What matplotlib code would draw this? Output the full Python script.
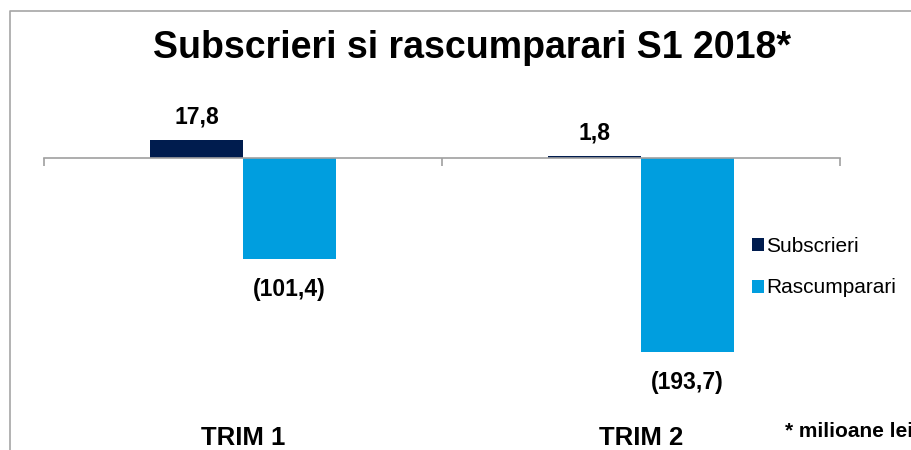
import matplotlib.pyplot as plt
import numpy as np
from matplotlib.lines import Line2D
from matplotlib.patches import Patch

plt.rcParams["font.family"] = ["Liberation Sans", "DejaVu Sans"]

# Data (milioane lei)
categories = ["TRIM 1", "TRIM 2"]
series_names = ["Subscrieri", "Rascumparari"]
subscrieri = [17.8, 1.8]
rascumparari = [-101.4, -193.7]
colors = ["#001C4E", "#009EDF"]


def fmt(v):
    s = f"{abs(v):.1f}".replace(".", ",")
    return f"({s})" if v < 0 else s


W, H = 912, 450
fig = plt.figure(figsize=(W / 100, H / 100), dpi=100)

# plot area: x 44..840 px, y 100..400 px (0 line at y=158 px)
ax = fig.add_axes([44 / W, 50 / H, 796 / W, 300 / H])
ax.set_xlim(-0.5, len(categories) - 0.5)
ax.set_ylim(-242, 58)

x = np.arange(len(categories))
bw = 0.234
for vals, off, col, name in [(subscrieri, -bw / 2, colors[0], series_names[0]),
                             (rascumparari, bw / 2, colors[1], series_names[1])]:
    ax.bar(x + off, vals, width=bw, color=col, label=name)
    for xi, v in zip(x + off, vals):
        dy = 12 if v >= 0 else -26.5
        ax.annotate(fmt(v), (xi, v), xytext=(0, dy), textcoords="offset points",
                    ha="center", va="baseline", fontsize=16.5, fontweight="bold")

# zero axis line with tick marks between categories
for s in ["top", "right", "left"]:
    ax.spines[s].set_visible(False)
ax.spines["bottom"].set_position(("data", 0))
ax.spines["bottom"].set_color("#a0a0a0")
ax.spines["bottom"].set_linewidth(1.2)
ax.set_xticks([-0.5, 0.5, 1.5])
ax.set_xticklabels([])
ax.tick_params(axis="x", direction="out", length=5.8, width=1.2, color="#a0a0a0")
ax.set_yticks([])

# category labels near the bottom of the chart
for xi, c in zip(x, categories):
    ax.annotate(c, xy=(xi, 5 / H), xycoords=("data", "figure fraction"),
                ha="center", va="baseline", fontsize=18.5, fontweight="bold")

# title
fig.text(472 / W, 392 / H, "Subscrieri si rascumparari S1 2018*", ha="center",
         va="baseline", fontsize=27, fontweight="bold")

# legend
handles = [Patch(facecolor=c) for c in colors]
fig.legend(handles, series_names, loc="center left",
           bbox_to_anchor=(752 / W, (H - 267) / H), frameon=False, fontsize=15,
           handlelength=0.58, handleheight=0.58, handletextpad=0.1,
           labelspacing=1.1, borderpad=0, borderaxespad=0)

# footnote
fig.text(785 / W, 13 / H, "* milioane lei", ha="left", va="baseline",
         fontsize=15, fontweight="bold")

# chart border (left and top edge of the frame)
fig.add_artist(Line2D([10 / W, 10 / W, 1.0], [0, (H - 11) / H, (H - 11) / H],
                      transform=fig.transFigure, color="#a6a6a6", lw=1.2))

fig.savefig("out.png", dpi=100)
